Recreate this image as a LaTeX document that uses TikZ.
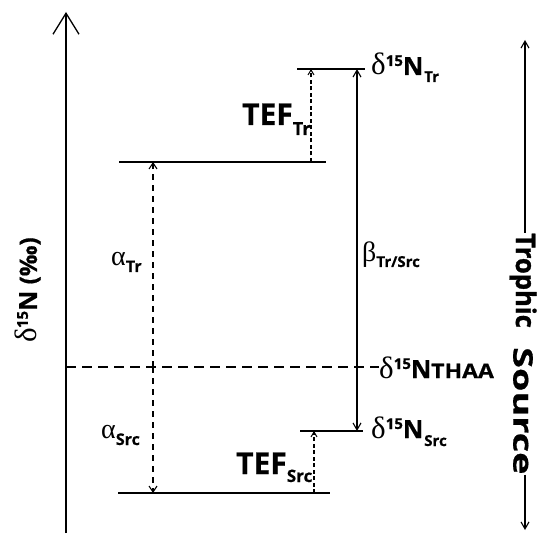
\documentclass[tikz,border=0pt]{standalone}
\usepackage{fontspec}
\setmainfont{Open Sans}
\newfontfamily\grk{Liberation Serif}
\newfontfamily\heavy{Open Sans Bold}[FakeBold=1.2]
\newfontfamily\semiheavy{Open Sans Bold}[FakeBold=0.6]
\usetikzlibrary{arrows.meta}
\newcommand{\gl}[2][28]{{\grk\fontsize{#1}{#1}\selectfont #2}}
\newcommand{\bsz}[2]{{\fontsize{#1}{#1}\selectfont\semiheavy #2}}
\newcommand{\dN}{\gl[31]{δ}\raisebox{9pt}{\bsz{15}{15}}\bsz{25}{N}}
\tikzset{
  lvl/.style={line width=1.4pt},
  lbl/.style={inner sep=0pt, anchor=base west},
  solidarr/.style={line width=1.1pt, -{Straight Barb[length=7pt,width=8pt,line width=1.1pt]}},
  dblarr/.style={line width=1.1pt, {Straight Barb[length=7pt,width=8pt,line width=1.1pt]}-{Straight Barb[length=7pt,width=8pt,line width=1.1pt]}},
  dasharr/.style={line width=1.2pt, dash pattern=on 6pt off 5pt, -{Straight Barb[length=6pt,width=8pt,line width=1.1pt]}},
  tefarr/.style={line width=1.1pt, dash pattern=on 4pt off 2.5pt, -{Straight Barb[length=5pt,width=6pt,line width=1pt]}},
}
\begin{document}
\begin{tikzpicture}[x=1pt,y=-1pt]
\useasboundingbox (0,0) rectangle (541,537);
% coordinates
\coordinate (axb) at (66,533);
\coordinate (axt) at (66,12);
\coordinate (trl) at (297,69);  \coordinate (trr) at (365,69);
\coordinate (al) at (119,162);  \coordinate (ar) at (326,162);
\coordinate (thl) at (66,367);
\coordinate (srl) at (300,431); \coordinate (srr) at (363,431);
\coordinate (bl) at (118,493);  \coordinate (br) at (330,493);
\coordinate (tefT) at (311,162); \coordinate (tefTt) at (311,69);
\coordinate (tefS) at (314,493); \coordinate (tefSt) at (314,431);
\coordinate (am) at (153,367); \coordinate (at) at (153,162); \coordinate (ab) at (153,493);
\coordinate (bt) at (357,69); \coordinate (bb) at (357,431);
\coordinate (rt) at (525,40); \coordinate (rb) at (525,530);
% main axis
\draw[line width=1.4pt, -{Straight Barb[length=21pt,width=26pt,line width=1.3pt]}] (axb) -- (axt);
\node[rotate=90] (ylab) at (28,290) {\dN\bsz{24}{ (‰)}};
% levels
\draw[lvl] (trl) -- (trr);
\draw[lvl] (al) -- (ar);
\draw[lvl] (srl) -- (srr);
\draw[lvl] (bl) -- (br);
% labels
\node[lbl] (ntr) at (371,75) {\dN\hspace{1pt}\raisebox{-7pt}{\bsz{15}{Tr}}};
\node[lbl] (nth) at (379,378) {\dN\raisebox{0pt}{\scalebox{1.15}[1]{\bsz{20}{THAA}}}};
\node[lbl] (nsr) at (371,438) {\dN\hspace{1pt}\raisebox{-8pt}{\bsz{15}{Src}}};
\node[lbl] (teft) at (242,125) {\bsz{30}{TEF}\raisebox{-10pt}{\bsz{18}{Tr}}};
\node[lbl] (tefs) at (236,474) {\bsz{30}{TEF}\raisebox{-8pt}{\bsz{17}{Src}}};
\node[lbl] (atr) at (111,266) {\gl{α}\raisebox{-6pt}{\bsz{16}{Tr}}};
\node[lbl] (asr) at (101,438) {\gl{α}\raisebox{-7pt}{\bsz{16}{Src}}};
\node[lbl] (btr) at (362,262) {\gl{β}\raisebox{-5pt}{\bsz{15}{Tr/Src}}};
% dashed THAA line
\draw[line width=1.3pt, dash pattern=on 10pt off 6pt] (thl) -- (nth.west |- thl);
% arrows
\draw[tefarr] (tefT) -- (tefTt);
\draw[tefarr] (tefS) -- (tefSt);
\draw[dasharr] (am) -- (at);
\draw[dasharr] (am) -- (ab);
\draw[dblarr] (bb) -- (bt);
% right side
\node[rotate=-90, inner sep=0pt, anchor=west] (tro) at (523,233) {\scalebox{0.95}[1]{\heavy\fontsize{27}{27}\selectfont Trophic}};
\node[rotate=-90, inner sep=0pt, anchor=west] (src) at (523,347) {\scalebox{1.4}[1]{\bsz{27}{Source}}};
\draw[solidarr] (tro.west -| rt) -- (rt);
\draw[solidarr] (src.east -| rb) -- (rb);
\end{tikzpicture}
\end{document}
